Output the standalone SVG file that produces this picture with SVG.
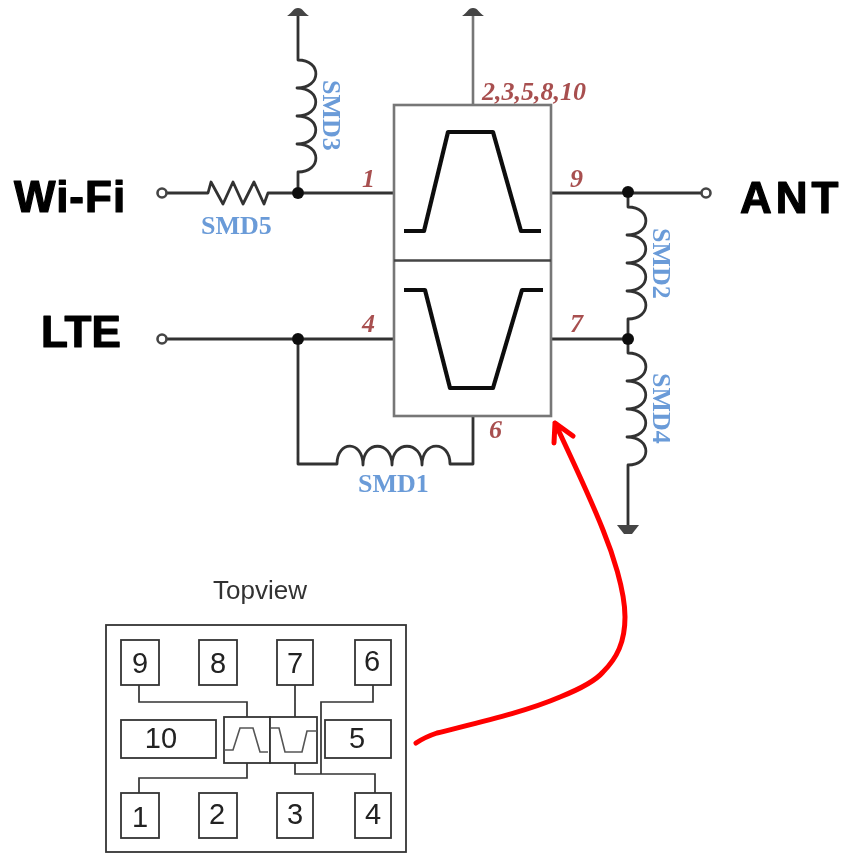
<svg xmlns="http://www.w3.org/2000/svg" width="843" height="853" viewBox="0 0 843 853">
<style>
.w{fill:none;stroke:#333;stroke-width:2.8;stroke-linejoin:round}
.g{fill:none;stroke:#777;stroke-width:2.6}
.f{fill:none;stroke:#111;stroke-width:4.2;stroke-linejoin:round}
.d{fill:#111}
.o{fill:#fff;stroke:#444;stroke-width:2.6}
.t{fill:#fff;stroke:#333;stroke-width:1.8}
.tw{fill:none;stroke:#333;stroke-width:1.7}
.mini{fill:none;stroke:#555;stroke-width:1.6}
.sm{font-family:"Liberation Serif",serif;font-weight:700;font-size:26px;fill:#6a9bd8}
.pn{font-family:"Liberation Serif",serif;font-style:italic;font-size:26px;font-weight:700;fill:#a85050}
.big{font-family:"Liberation Sans",sans-serif;font-weight:700;font-size:44px;fill:#000;stroke:#000;stroke-width:1.2;stroke-linejoin:round}
.pad{font-family:"Liberation Sans",sans-serif;font-size:29px;fill:#222;text-anchor:middle}
</style>
<defs>
<filter id="soft" x="-5%" y="-5%" width="110%" height="110%"><feGaussianBlur stdDeviation="0.6"/></filter>
<filter id="soft2" x="-5%" y="-5%" width="110%" height="110%"><feGaussianBlur stdDeviation="0.35"/></filter>
</defs>
<g id="connectors" filter="url(#soft)">
<path class="w" d="M164 193H208L211 182L223 204L233 182L243 204L254 182L264 204L268 193H394"/>
<path class="w" d="M298 193V172C322 172 322 144 297 144C322 144 322 116 297 116C322 116 322 88 297 88C322 88 322 60 298 60V14"/>
<path class="g" d="M473 105V14"/>
<path class="w" d="M551 193H702"/>
<path class="w" d="M628 193V207C652 207 652 235 627 235C652 235 652 263 627 263C652 263 652 291 627 291C652 291 652 319 628 319V339"/>
<path class="w" d="M628 339V353C652 353 652 381 627 381C652 381 652 409 627 409C652 409 652 437 627 437C652 437 652 465 628 465V526"/>
<path class="w" d="M164 339H394"/>
<path class="w" d="M551 339H628"/>
<path class="w" d="M298 339V464H337C337 440 363 440 363 465C363 440 392 440 392 465C392 440 422 440 422 465C422 440 450 440 450 464H473V416"/>
<circle class="d" cx="298" cy="193" r="6"/>
<circle class="d" cx="628" cy="192" r="6"/>
<circle class="d" cx="298" cy="339" r="6"/>
<circle class="d" cx="628" cy="339" r="6"/>
<circle class="o" cx="162" cy="193" r="4.5"/>
<circle class="o" cx="706" cy="193" r="4.5"/>
<circle class="o" cx="162" cy="339" r="4.5"/>
<path d="M287 16C292 13 293 8 298 8C303 8 304 13 309 16Z" fill="#444"/>
<path d="M462 16C467 13 468 8 473 8C478 8 479 13 484 16Z" fill="#444"/>
<path d="M617 525H639L632 534H624Z" fill="#444"/>
</g>
<g id="duplexer" filter="url(#soft)">
<rect class="g" x="394" y="105" width="157" height="311" fill="none"/>
<path d="M394 260.500H551" fill="none" stroke="#444" stroke-width="2.400"/>
<path class="f" d="M404 231H424L448 132H493L521 231H541"/>
<path class="f" d="M404 290H425L450 388H493L522 290H543"/>
</g>
<g id="labels" filter="url(#soft)">
<text class="sm" x="201" y="234">SMD5</text>
<text class="sm" transform="translate(323 80) rotate(90)">SMD3</text>
<text class="sm" transform="translate(653 228) rotate(90)">SMD2</text>
<text class="sm" transform="translate(653 373) rotate(90)">SMD4</text>
<text class="sm" x="358" y="492">SMD1</text>
<text class="pn" x="482" y="100">2,3,5,8,10</text>
<text class="pn" x="362" y="187">1</text>
<text class="pn" x="570" y="187">9</text>
<text class="pn" x="362" y="332">4</text>
<text class="pn" x="570" y="332">7</text>
<text class="pn" x="489" y="438">6</text>
</g>
<text id="wifi" class="big" x="14" y="212" letter-spacing="1">Wi-Fi</text>
<text id="ant" class="big" x="740" y="213" letter-spacing="4">ANT</text>
<text id="lte" class="big" x="41" y="347">LTE</text>
<g id="topview" filter="url(#soft2)">
<text x="260" y="599" text-anchor="middle" font-family="Liberation Sans, sans-serif" font-size="26" fill="#333">Topview</text>
<rect class="t" x="106" y="625" width="300" height="227"/>
<path class="tw" d="M139 685V702H247V717M295 685V717M373 685V702H321V774M247 763V778H139V793M295 763V774H375V793"/>
<rect class="t" x="224" y="717" width="46" height="46"/>
<rect class="t" x="270" y="717" width="47" height="46"/>
<path class="mini" d="M224 750H233L240 728H253L260 752H268"/>
<path class="mini" d="M271 728H279L285 752H302L307 731H317"/>
<g id="pad9"><rect class="t" x="121" y="640" width="38" height="45"/><text class="pad" x="140" y="673">9</text></g>
<g id="pad8"><rect class="t" x="199" y="640" width="38" height="45"/><text class="pad" x="218" y="673">8</text></g>
<g id="pad7"><rect class="t" x="277" y="640" width="36" height="45"/><text class="pad" x="295" y="673">7</text></g>
<g id="pad6"><rect class="t" x="355" y="640" width="36" height="45"/><text class="pad" x="372" y="671">6</text></g>
<g id="pad10"><rect class="t" x="121" y="720" width="95" height="38"/><text class="pad" x="161" y="748">10</text></g>
<g id="pad5"><rect class="t" x="325" y="720" width="66" height="38"/><text class="pad" x="357" y="748">5</text></g>
<g id="pad1"><rect class="t" x="121" y="793" width="38" height="45"/><text class="pad" x="140" y="827">1</text></g>
<g id="pad2"><rect class="t" x="199" y="793" width="38" height="45"/><text class="pad" x="217" y="824">2</text></g>
<g id="pad3"><rect class="t" x="277" y="793" width="36" height="45"/><text class="pad" x="295" y="824">3</text></g>
<g id="pad4"><rect class="t" x="355" y="793" width="36" height="45"/><text class="pad" x="373" y="824">4</text></g>
</g>
<g id="callout">
<path d="M416 743C422 739 428 736 437 733C480 722 525 712 560 697C585 687 597 679 603 672C617 658 625 642 625 617C625 590 612 552 603 530C590 497 570 455 555 423M554 443L555 423L573 436" fill="none" stroke="#f00" stroke-width="5" stroke-linecap="round" stroke-linejoin="round"/>
</g>
</svg>
